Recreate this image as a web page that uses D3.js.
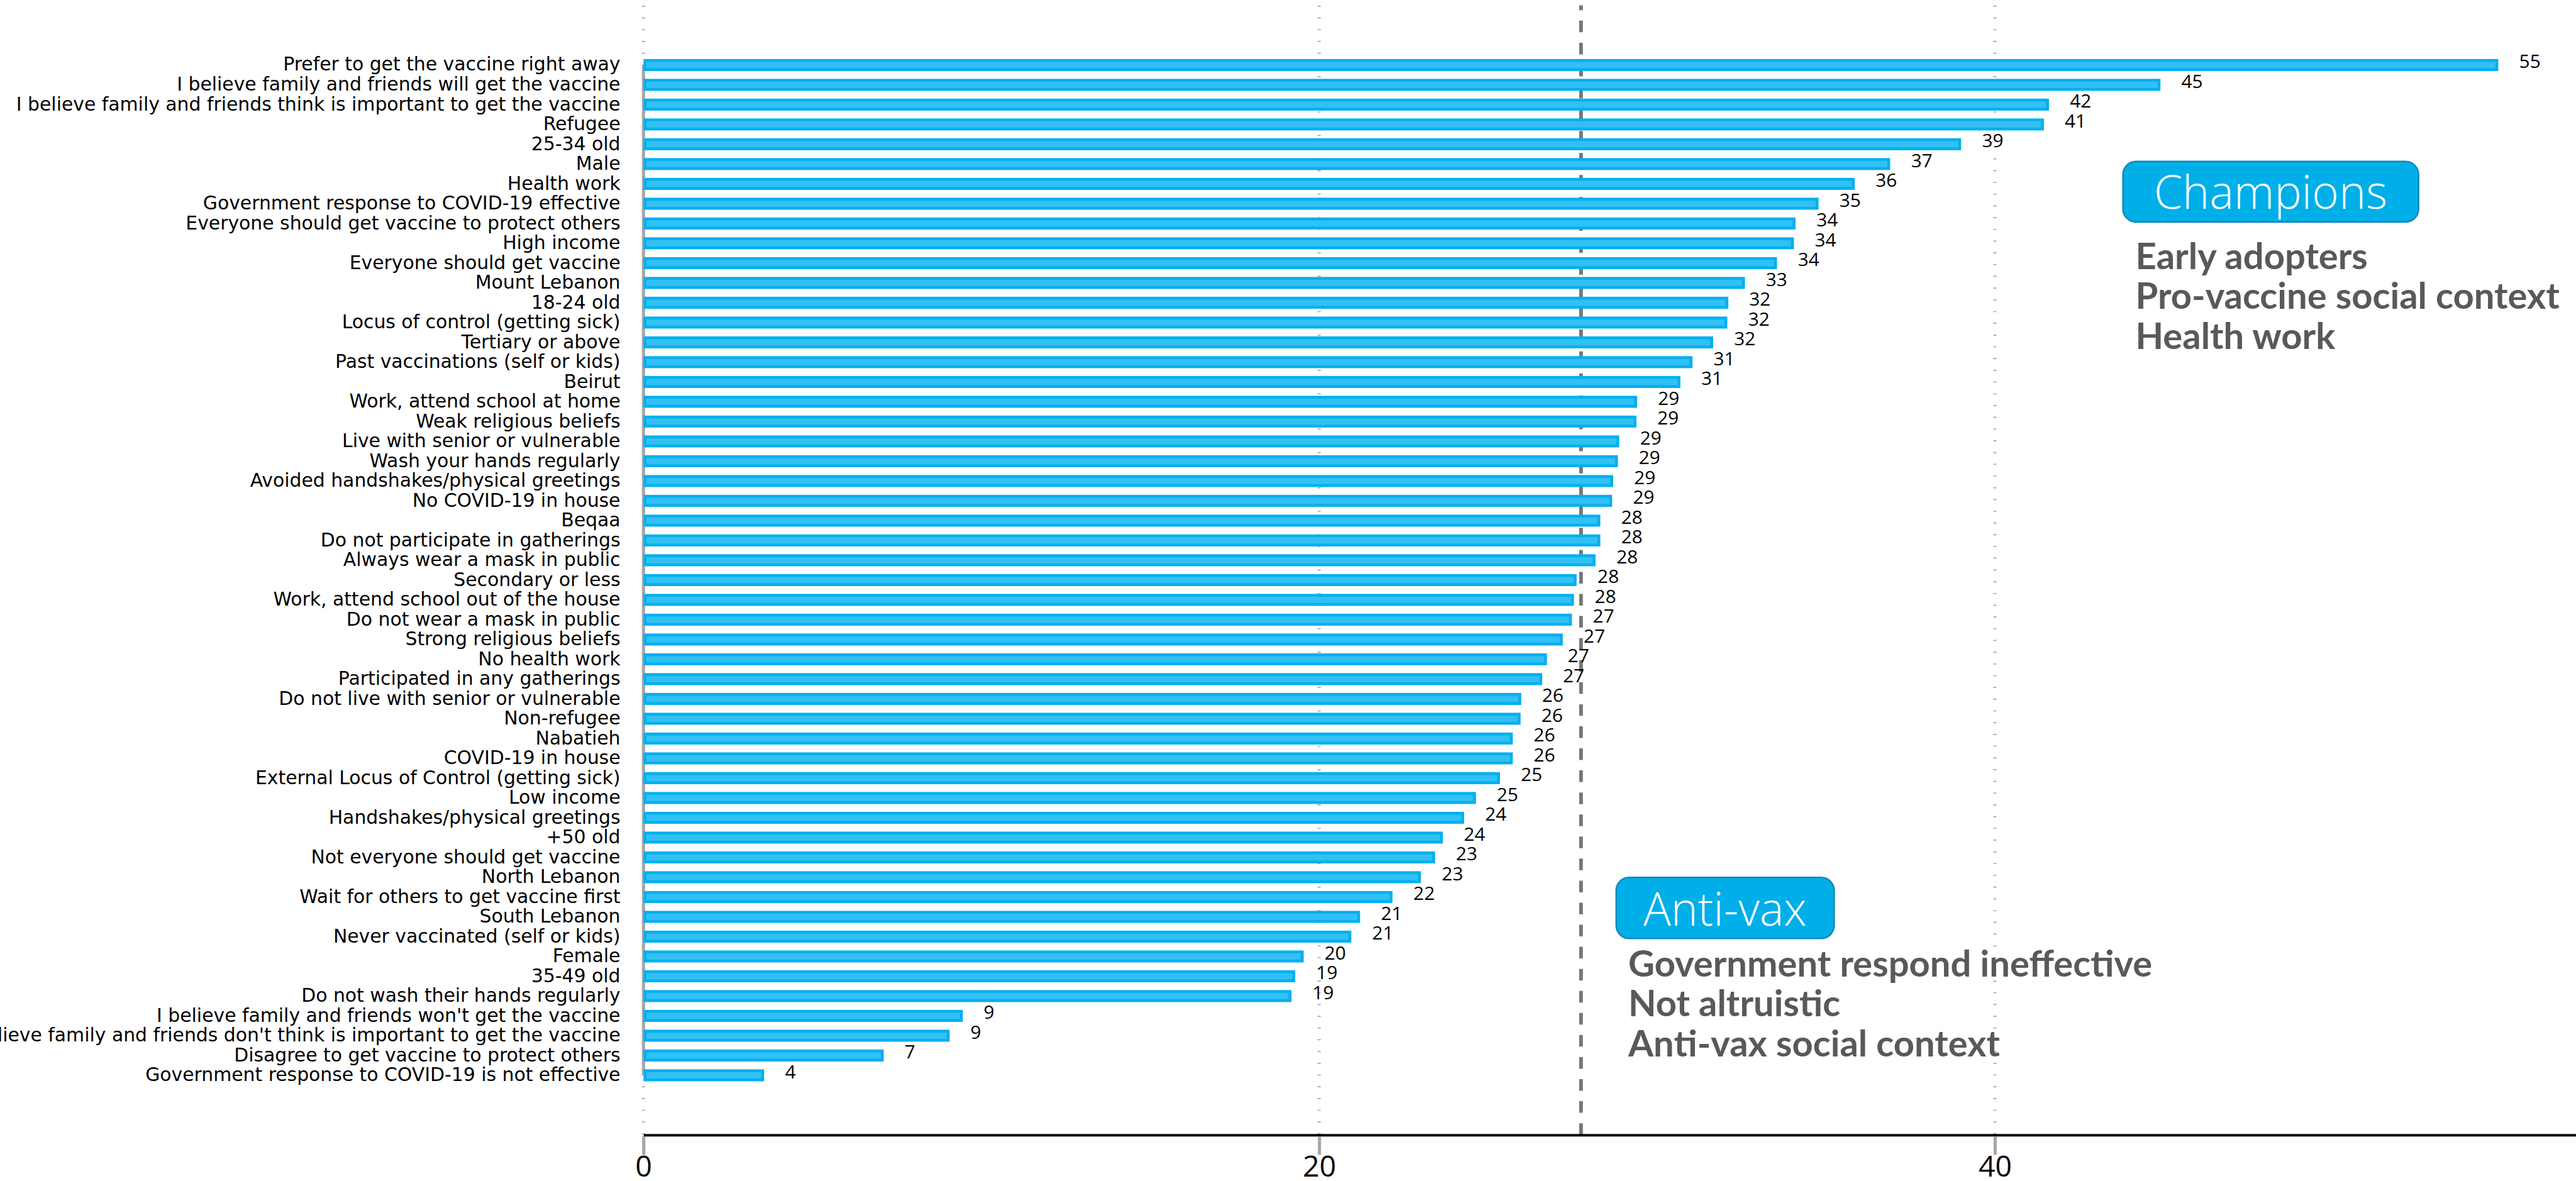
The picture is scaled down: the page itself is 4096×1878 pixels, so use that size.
<!DOCTYPE html>
<html>
<head>
<meta charset="utf-8">
<script src="https://cdn.jsdelivr.net/npm/d3@7"></script>
<style>
  html, body { margin: 0; padding: 0; background: #fff; overflow: hidden; }
  svg { display: block; }
</style>
</head>
<body>
<div id="chart"></div>
<script>
// ---------------- DATA ----------------
const categories = [
  "Prefer to get the vaccine right away",
  "I believe family and friends will get the vaccine",
  "I believe family and friends think is important to get the vaccine",
  "Refugee",
  "25-34 old",
  "Male",
  "Health work",
  "Government response to COVID-19 effective",
  "Everyone should get vaccine to protect others",
  "High income",
  "Everyone should get vaccine",
  "Mount Lebanon",
  "18-24 old",
  "Locus of control (getting sick)",
  "Tertiary or above",
  "Past vaccinations (self or kids)",
  "Beirut",
  "Work, attend school at home",
  "Weak religious beliefs",
  "Live with senior or vulnerable",
  "Wash your hands regularly",
  "Avoided handshakes/physical greetings",
  "No COVID-19 in house",
  "Beqaa",
  "Do not participate in gatherings",
  "Always wear a mask in public",
  "Secondary or less",
  "Work, attend school out of the house",
  "Do not wear a mask in public",
  "Strong religious beliefs",
  "No health work",
  "Participated in any gatherings",
  "Do not live with senior or vulnerable",
  "Non-refugee",
  "Nabatieh",
  "COVID-19 in house",
  "External Locus of Control (getting sick)",
  "Low income",
  "Handshakes/physical greetings",
  "+50 old",
  "Not everyone should get vaccine",
  "North Lebanon",
  "Wait for others to get vaccine first",
  "South Lebanon",
  "Never vaccinated (self or kids)",
  "Female",
  "35-49 old",
  "Do not wash their hands regularly",
  "I believe family and friends won't get the vaccine",
  "I believe family and friends don't think is important to get the vaccine",
  "Disagree to get vaccine to protect others",
  "Government response to COVID-19 is not effective"
];

const values = [
  54.9, 44.9, 41.6, 41.45, 39.0, 36.9, 35.85, 34.78, 34.1, 34.05,
  33.55, 32.6, 32.11, 32.08, 31.66, 31.05, 30.69, 29.41, 29.39, 28.88,
  28.84, 28.70, 28.67, 28.32, 28.32, 28.18, 27.62, 27.54, 27.48, 27.21,
  26.74, 26.60, 25.98, 25.96, 25.73, 25.73, 25.35, 24.64, 24.29, 23.66,
  23.43, 23.01, 22.17, 21.21, 20.95, 19.54, 19.29, 19.18, 9.45, 9.06,
  7.11, 3.57
];

const xTicks = [0, 20, 40];
const xMax = 57.2;
const averageValue = 27.75;

const championsTitle = "Champions";
const championsNotes = ["Early adopters", "Pro-vaccine social context", "Health work"];
const antiVaxTitle = "Anti-vax";
const antiVaxNotes = ["Government respond ineffective", "Not altruistic", "Anti-vax social context"];

// ---------------- LAYOUT (reference units, scaled by viewBox) ----------------
const W = 4941, H = 2265;
const svg = d3.select("#chart").append("svg")
  .attr("width", 4096).attr("height", 1878)
  .attr("viewBox", `0 0 ${W} ${H}`);

const x = d3.scaleLinear().domain([0, xMax]).range([1234.3, W]);
const y = d3.scaleBand().domain(categories)
  .range([105.5, 105.5 + 38 * categories.length])
  .paddingInner(0.395).paddingOuter(0.1975);
const bw = y.bandwidth();
const axisY = 2177;

const labelFont = "'DejaVu Sans', sans-serif";
const numFont = "'Open Sans', sans-serif";
const noteFont = "Lato, 'Open Sans', sans-serif";

// gridlines (dotted)
svg.append("g").selectAll("line").data(xTicks).join("line")
  .attr("x1", d => x(d)).attr("x2", d => x(d))
  .attr("y1", 10.7).attr("y2", axisY)
  .attr("stroke", "#A6A6A6").attr("stroke-width", 6)
  .attr("stroke-dasharray", "2 20.53");

// average dashed line
svg.append("line")
  .attr("x1", x(averageValue)).attr("x2", x(averageValue))
  .attr("y1", 10).attr("y2", axisY)
  .attr("stroke", "#767676").attr("stroke-width", 7)
  .attr("stroke-dasharray", "22.3 20")
  .attr("stroke-dashoffset", 12.9);

// left category axis line
svg.append("line")
  .attr("x1", x(0)).attr("x2", x(0))
  .attr("y1", y(categories[0]) + bw / 2)
  .attr("y2", y(categories[categories.length - 1]) + bw / 2)
  .attr("stroke", "#A6A6A6").attr("stroke-width", 6);

// bars
const sw = 5.5;
svg.append("g").selectAll("rect").data(categories).join("rect")
  .attr("x", x(0) + sw / 2)
  .attr("y", d => y(d) + sw / 2)
  .attr("width", (d, i) => Math.max(0, x(values[i]) - x(0) - sw))
  .attr("height", bw - sw)
  .attr("fill", "#33C0F2")
  .attr("stroke", "#00B0F0")
  .attr("stroke-width", sw);

// value labels
svg.append("g").selectAll("text").data(categories).join("text")
  .attr("x", (d, i) => x(values[i]) + 40)
  .attr("y", d => y(d) + bw / 2 + 6)
  .attr("font-family", numFont)
  .attr("font-size", 36)
  .attr("fill", "#000")
  .text((d, i) => Math.round(values[i]));

// category labels
const catG = svg.append("g");
const catLabels = catG.selectAll("text").data(categories).join("text")
  .attr("x", 1190)
  .attr("y", d => y(d) + bw / 2 + 11)
  .attr("text-anchor", "end")
  .attr("font-family", labelFont)
  .attr("font-size", 30)
  .attr("fill", "#000")
  .text(d => d);
// fit font size so the reference-width label matches
(function () {
  const ref = catLabels.filter(d => d === categories[2]).node();
  const w = ref.getComputedTextLength();
  if (w > 0) {
    const fs = 30 * 1159 / w;
    catLabels.attr("font-size", Math.min(36, Math.max(26, fs)));
  }
})();

// bottom axis
const xAxis = d3.axisBottom(x).tickValues(xTicks).tickSize(38).tickSizeOuter(0).tickPadding(8);
const ax = svg.append("g").attr("transform", `translate(0,${axisY})`).call(xAxis);
ax.select(".domain").attr("stroke", "#000").attr("stroke-width", 5);
ax.selectAll(".tick line").attr("stroke", "#A6A6A6").attr("stroke-width", 6).attr("y1", 2.5);
ax.selectAll(".tick text")
  .attr("font-family", numFont).attr("font-size", 56).attr("fill", "#000")
  .attr("y", 80).attr("dy", null);
ax.attr("font-size", null).attr("font-family", null);

// annotations
function callout(bx, by, bwid, bht, title, notes, notesX, firstBaseline) {
  const g = svg.append("g");
  g.append("rect")
    .attr("x", bx).attr("y", by).attr("width", bwid).attr("height", bht)
    .attr("rx", 25).attr("ry", 25)
    .attr("fill", "#00AFE8").attr("stroke", "#1287BA").attr("stroke-width", 3);
  g.append("text")
    .attr("x", bx + bwid / 2).attr("y", by + bht - 25)
    .attr("text-anchor", "middle")
    .attr("font-family", numFont).attr("font-weight", 300)
    .attr("font-size", 88).attr("fill", "#fff")
    .text(title);
  g.selectAll("text.note").data(notes).join("text")
    .attr("class", "note")
    .attr("x", notesX).attr("y", (d, i) => firstBaseline + i * 76.5)
    .attr("font-family", noteFont).attr("font-weight", 700)
    .attr("font-size", 63).attr("fill", "#595959")
    .text(d => d);
  return g;
}
callout(4072, 309.5, 567, 116, championsTitle, championsNotes, 4096, 516);
const av = callout(3100, 1683, 418, 117, antiVaxTitle, antiVaxNotes, 3123, 1873);

// fit bold note font to reference width
(function () {
  const n = av.selectAll("text.note").filter(d => d === antiVaxNotes[0]).node();
  const w = n.getComputedTextLength();
  if (w > 0) {
    const fs = 63 * 1005 / w;
    svg.selectAll("text.note").attr("font-size", Math.min(70, Math.max(55, fs)));
  }
})();
</script>
</body>
</html>
